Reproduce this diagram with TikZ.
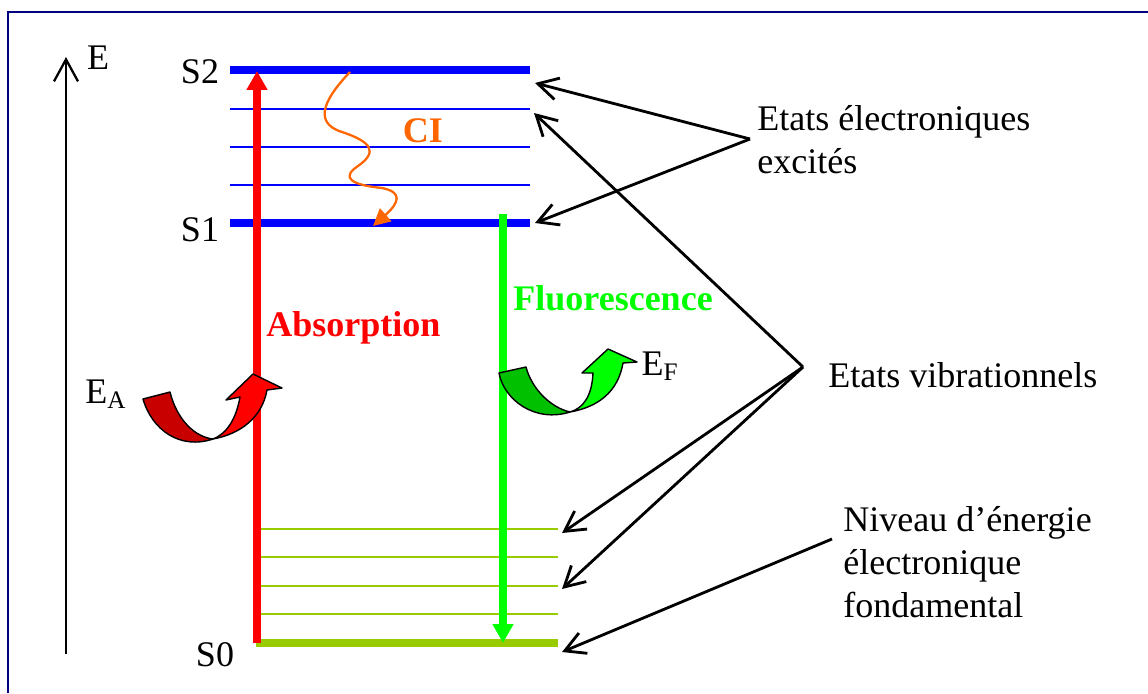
\documentclass[tikz,border=0pt]{standalone}
\usepackage{fontspec}
\setmainfont{Liberation Serif}
\usepackage{tikz}
\usetikzlibrary{positioning, arrows.meta}
\definecolor{framenavy}{HTML}{000080}
\definecolor{levelblue}{HTML}{0000FF}
\definecolor{groundgreen}{HTML}{99CC00}
\definecolor{fluogreen}{HTML}{00FF00}
\definecolor{darkfluo}{HTML}{00C000}
\definecolor{absred}{HTML}{FF0000}
\definecolor{darkabs}{HTML}{C80000}
\definecolor{icorange}{HTML}{FF6600}
\newcommand{\labelsize}{\fontsize{20.5}{24.4}\selectfont}

\begin{document}
\begin{tikzpicture}[x=0.02cm, y=-0.02cm,
  every node/.style={font=\labelsize, inner sep=0pt},
  thicklevel/.style={line width=4pt},
  thinlevel/.style={line width=1.1pt},
  transition/.style={line width=4pt, -{Triangle[length=3.8mm, width=4mm]}},
  pointer/.style={line width=1.6pt, -{Straight Barb[length=4mm, width=4.4mm]}},
  bandarrow/.style={draw=black, line width=0.8pt, line join=round}]
  \useasboundingbox (0,0) rectangle (1148,693);
  % frame, cut at the right and bottom
  \draw[framenavy, line width=1.5pt] (8,693) -- (8,12) -- (1148,12);

  % energy axis
  \coordinate (ebot) at (66,654);
  \coordinate (etop) at (66,57);
  \draw[line width=1.3pt, -{Straight Barb[length=4.4mm, width=4.8mm]}] (ebot) -- (etop);
  \node (elab) at (98,58) {E};

  % excited levels
  \node (s2) at (200,72) {S2};
  \node (s1) at (200,230) {S1};
  \draw[levelblue, thicklevel] (230,70) -- (530,70);
  \foreach \y in {109,147,185}
    \draw[levelblue, thinlevel] (230,\y) -- (530,\y);
  \draw[levelblue, thicklevel] (230,223) -- (530,223);

  % ground level
  \node (s0) at (215,655) {S0};
  \foreach \y in {529,557,586,614}
    \draw[groundgreen, line width=1.5pt] (256,\y) -- (558,\y);
  \draw[groundgreen, thicklevel] (256,643) -- (558,643);

  % absorption
  \coordinate (absbot) at (257,643);
  \coordinate (abstop) at (257,71);
  \draw[absred, transition] (absbot) -- (abstop);
  \node[absred, font=\labelsize\bfseries, anchor=west] (abs) at (266,328) {Absorption};

  % fluorescence
  \coordinate (fluotop) at (503,214);
  \coordinate (fluobot) at (503,643);
  \draw[fluogreen, transition] (fluotop) -- (fluobot);
  \node[fluogreen, font=\labelsize\bfseries, anchor=west] (fluo) at (513,298) {Fluorescence};

  % internal conversion
  \coordinate (cistart) at (350,72);
  \coordinate (ciend) at (373,226);
  \draw[icorange, line width=1.3pt, -{Triangle[length=3.4mm, width=3.4mm]}]
    (cistart) .. controls (328,95) and (310,122) .. (342,132)
    .. controls (372,142) and (378,152) .. (358,166)
    .. controls (340,178) and (352,185) .. (382,188)
    .. controls (402,192) and (400,202) .. (ciend);
  \node[icorange, font=\labelsize\bfseries] (ci) at (423,131) {CI};

  % E_A curved arrow
  \node (ea) at (106,394) {E\textsubscript{A}};
  \filldraw[fill=darkabs, bandarrow] (143,399) .. controls (152,430) and (180,450) .. (213,439)
    .. controls (195,437) and (177,420) .. (170,392) -- cycle;
  \filldraw[fill=absred, bandarrow] (213,439) .. controls (240,434) and (262,418) .. (267,390)
    -- (282,388) -- (253,374) -- (226,400) -- (240,397)
    .. controls (236,420) and (226,434) .. (213,439) -- cycle;

  % E_F curved arrow
  \node (ef) at (660,366) {E\textsubscript{F}};
  \filldraw[fill=darkfluo, bandarrow] (499,373) .. controls (504,400) and (535,423) .. (570,412)
    .. controls (552,408) and (532,390) .. (526,367) -- cycle;
  \filldraw[fill=fluogreen, bandarrow] (570,412) .. controls (598,407) and (618,392) .. (623,363)
    -- (637,362) -- (608,349) -- (582,373) -- (593,373)
    .. controls (592,395) and (584,408) .. (570,412) -- cycle;

  % captions
  \node[anchor=west, align=left] (excited) at (757,140) {Etats électroniques\\excités};
  \node[anchor=west] (vibr) at (828,375) {Etats vibrationnels};
  \node[anchor=west, align=left] (ground) at (843,562) {Niveau d’énergie\\électronique\\fondamental};

  % pointers
  \coordinate (excapex) at (750,139);
  \coordinate (vibapex) at (803,367);
  \coordinate (gndstart) at (832,539);
  \draw[pointer] (excapex) -- (535,83);
  \draw[pointer] (excapex) -- (535,223);
  \draw[pointer] (vibapex) -- (534,113);
  \draw[pointer] (vibapex) -- (562,533);
  \draw[pointer] (vibapex) -- (562,589);
  \draw[pointer] (gndstart) -- (562,652);
\end{tikzpicture}
\end{document}
